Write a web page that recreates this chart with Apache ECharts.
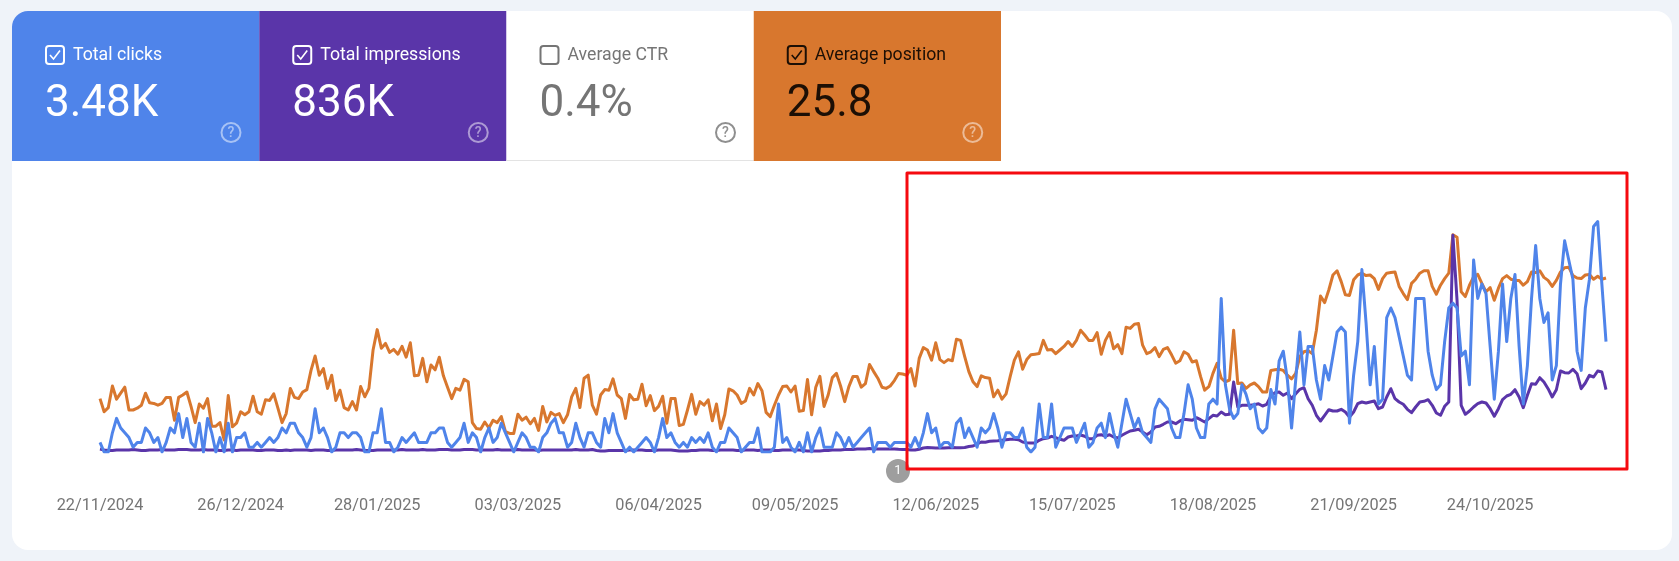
<!DOCTYPE html>
<html>
<head>
<meta charset="utf-8">
<title>Search performance</title>
<style>
  html, body { margin: 0; padding: 0; background: #eff3f9; }
  #chart { width: 1679px; height: 561px; }
</style>
<script src="https://cdn.jsdelivr.net/npm/echarts@6/dist/echarts.min.js"></script>
</head>
<body>
<div id="chart"></div>
<script>
// Headline figures
const metricNames = ['Total clicks', 'Total impressions', 'Average CTR', 'Average position'];
const metricValues = ['3.48K', '836K', '0.4%', '25.8'];
const metricChecked = [true, true, false, true];

// Dates shown under the plot
const tickLabels = ['22/11/2024', '26/12/2024', '28/01/2025', '03/03/2025', '06/04/2025', '09/05/2025',
  '12/06/2025', '15/07/2025', '18/08/2025', '21/09/2025', '24/10/2025'];

// Daily clicks
const clicks = [
  2,0,0,4,7,5,4,3,1,2, 2,5,4,2,3,0,2,5,4,8, 3,7,2,1,6,0,7,4,0,3, 0,6,0,3,3,4,1,1,2,1,
  2,3,2,3,5,4,6,6,4,3, 1,3,9,4,5,3,0,1,4,4, 3,4,4,3,0,0,4,4,9,2, 2,0,1,3,2,3,4,2,2,2,
  4,4,5,5,2,1,2,3,6,2, 4,3,0,3,5,2,3,6,4,2, 0,2,4,3,1,1,0,3,4,6, 7,4,4,1,2,6,3,1,4,4,
  2,1,7,4,8,4,2,0,1,0, 1,2,3,2,0,3,7,3,4,2, 1,2,1,3,2,3,2,4,1,0, 2,2,5,4,3,0,1,2,2,5,
  0,0,0,1,10,2,3,1,0,2, 0,4,0,3,5,1,1,1,4,3, 1,3,1,2,3,4,5,0,2,2, 2,1,2,2,2,2,1,3,1,4,
  8,4,5,1,2,2,1,6,7,3, 5,3,1,5,4,5,8,5,1,4, 4,3,3,5,1,0,1,10,3,3, 10,1,3,5,5,5,2,4,6,1,
  2,5,6,3,8,4,1,6,11,8, 5,7,4,3,2,9,11,10,9,5, 3,3,8,14,11,5,3,3,10,11, 10,32,14,9,7,8,14,12,9,10,
  5,4,5,13,10,19,21,15,5,15, 25,14,22,22,15,11,18,15,20,25, 26,25,6,16,23,38,27,14,22,10,
  11,28,30,28,24,20,16,15,32,32, 32,21,16,13,14,23,30,31,30,20, 21,14,40,32,35,33,22,11,21,35,
  23,32,37,22,10,18,32,43,32,27, 29,15,18,35,44,40,36,21,17,30, 36,47,48,35,23
];

// Daily impressions, in thousands
const impressions = [
  .3,.2,.15,.15,.2,.2,.2,.2,.25,.2, .15,.15,.2,.2,.2,.25,.2,.2,.2,.25,
  .25,.25,.2,.2,.2,.25,.2,.2,.2,.15, .15,.2,.2,.15,.2,.2,.2,.2,.15,.15,
  .2,.2,.2,.15,.15,.2,.15,.2,.2,.2, .2,.15,.2,.2,.2,.15,.15,.2,.2,.2,
  .2,.2,.25,.2,.15,.15,.15,.2,.2,.2, .2,.2,.2,.25,.2,.2,.2,.2,.25,.2,
  .2,.2,.25,.25,.25,.2,.2,.2,.25,.25, .25,.2,.2,.2,.2,.2,.25,.2,.2,.2,
  .2,.25,.2,.2,.2,.2,.15,.2,.2,.2, .2,.2,.2,.2,.2,.25,.2,.2,.2,.25,
  .15,.1,.1,.15,.15,.15,.15,.15,.2,.2, .2,.2,.15,.15,.15,.2,.2,.2,.2,.15,
  .1,.1,.1,.15,.15,.2,.2,.2,.15,.15, .2,.2,.2,.2,.15,.15,.2,.2,.2,.15,
  .2,.2,.2,.15,.15,.2,.2,.2,.2,.2, .15,.1,.1,.1,.1,.15,.15,.2,.2,.2,
  .25,.25,.25,.3,.3,.3,.35,.3,.3,.3, .3,.3,.3,.27,.25,.25,.2,.2,.27,.4,
  .45,.43,.4,.4,.4,.43,.45,.43,.43,.45, .55,.6,.8,1.0,.97,1.07,1.1,1.13,1.17,1.23,
  1.27,1.27,1.23,1,.93,.9,.9,1.17,1.33,1.4, 1.57,1.43,1.27,1.17,1.5,1.6,1.6,1.7,1.57,1.33,
  1.33,1.67,1.73,1.57,1.73,1.5,1.4,1.67,1.9,2.1, 2.17,2.27,2,1.73,2,2.5,2.57,2.77,3,3,
  2.83,3.1,3.27,3.23,3.17,3.43,3.23,3,3.33,3.67, 3.6,4,3.73,3.77,7,4.5,4.67,4.67,4.67,4.73,
  4.83,4.6,4.77,5.57,5.93,6,5.67,5.9,5.33,5.83, 6.27,6.43,5.33,4.67,3.67,3.1,3.67,4.23,4.1,4.1,
  4.27,4,3.5,4,4.83,5,4.9,5,5.1,4.33, 4.5,5.5,6.33,5.33,5,4.77,4.27,3.93,4.5,5,
  5.07,5.23,4.67,3.9,3.67,4.57,5,21.67,15.17,4.67, 3.77,4.1,4.5,4.83,5,4.9,4.33,3.57,4.33,5.23,
  5.6,5.77,6.23,5.5,4.43,5.67,6.83,6.77,7.43,7, 6.33,5.5,6.23,8.1,7.93,7.9,8.27,7.83,6.33,6.9,
  7.67,7.5,8.1,8,6.23
];

// Daily average position (lower is better, so its axis runs downwards)
const position = [
  37.1,39.3,38.6,35.0,37.2,36.2,35.2,39.0,39.0,38.7, 38.2,36.2,37.8,37.9,38.2,37.9,36.9,36.9,40.7,36.9,
  36.5,36.0,38.4,41.1,38.0,38.7,37.1,41.7,41.7,41.1, 44.0,36.6,41.8,41.2,39.3,39.8,39.3,36.7,39.3,39.7,
  37.3,37.4,36.3,38.7,41.1,39.6,35.4,36.9,37.1,36.0, 35.6,32.4,30.0,33.2,32.1,35.4,33.2,37.4,35.7,38.6,
  39.0,37.6,39.0,35.1,36.8,35.4,29.0,25.6,28.7,27.9, 29.4,28.9,29.7,28.4,30.2,27.8,33.3,33.2,30.4,34.3,
  31.5,32.3,30.2,33.3,35.2,37.1,35.4,35.7,33.9,34.3, 41.1,42.1,42.2,41.0,42.0,40.7,41.1,40.1,42.6,42.9,
  42.9,39.7,40.7,40.2,41.3,40.4,42.4,38.4,41.0,39.4, 39.9,39.6,41.1,39.8,36.8,35.4,38.6,33.7,33.2,38.2,
  39.7,36.5,35.6,35.7,33.8,36.5,37.1,40.4,36.4,37.3, 37.2,34.7,38.3,36.6,39.1,38.4,36.7,41.2,37.1,37.1,
  41.6,41.4,39.0,36.4,39.7,37.6,38.2,37.3,40.8,38.0, 42.1,39.8,35.5,35.8,36.5,37.9,37.5,35.4,36.5,34.6,
  35.8,39.4,40.1,38.2,36.5,35.1,35.0,36.0,35.0,39.2, 39.1,33.9,39.8,35.2,33.4,38.4,36.5,33.6,32.9,35.0,
  37.6,35.1,33.4,33.4,35.2,34.6,31.4,32.6,33.7,35.2, 35.4,35.0,34.1,32.9,33.0,33.2,32.1,35.0,30.4,28.6,
  29.0,30.7,27.8,30.6,31.1,30.6,30.8,27.2,27.4,30.1, 32.6,34.3,35.1,33.3,33.6,33.7,36.8,35.7,37.2,36.3,
  33.4,30.7,29.3,32.2,30.6,29.8,29.7,29.6,27.4,29.0, 28.9,29.6,29.0,28.4,27.6,28.4,27.4,25.7,26.5,27.4,
  27.4,26.1,29.7,27.4,26.1,28.8,28.1,29.6,25.2,25.4, 24.7,24.6,28.2,29.6,29.3,28.6,30.1,28.9,28.6,29.8,
  31.2,30.8,29.3,29.7,31.0,30.8,33.4,35.7,35.1,32.9, 31.2,33.7,34.3,34.0,25.7,34.6,34.5,35.4,34.8,34.5,
  35.1,36.0,36.0,32.4,32.3,32.2,32.4,33.2,33.8,32.9, 30.1,29.3,29.1,29.6,25.7,20.0,21.1,19.0,16.5,15.8,
  17.6,19.8,19.9,17.3,16.5,16.2,16.6,16.5,17.1,18.9, 17.1,16.2,16.1,16.0,18.4,19.6,20.6,17.9,17.2,16.2,
  15.8,15.8,18.4,19.7,18.2,17.1,16.2,9.8,10.2,19.3, 20.1,18.2,16.8,16.4,17.9,19.3,18.6,20.7,18.7,17.1,
  16.6,17.2,17.4,17.4,18.2,17.6,16.0,16.1,15.8,16.9, 17.4,18.4,17.4,16.0,15.3,15.2,16.6,17.0,17.1,16.5,
  16.4,17.2,16.7,17.2,17.0
];

// One category per day, starting on the first tick date
const days = [];
for (let i = 0; i < clicks.length; i++) {
  const d = new Date(Date.UTC(2024, 10, 22 + i));
  days.push(String(d.getUTCDate()).padStart(2, '0') + '/' +
            String(d.getUTCMonth() + 1).padStart(2, '0') + '/' + d.getUTCFullYear());
}

const FONT = 'Roboto, Arial, sans-serif';
const BLUE = '#4f84ea';
const PURPLE = '#5a35a9';
const ORANGE = '#d8772e';

// Summary tiles along the top of the card
const tileStyles = [
  { bg: BLUE,      fg: '#ffffff', help: 'rgba(255,255,255,0.5)' },
  { bg: PURPLE,    fg: '#ffffff', help: 'rgba(255,255,255,0.5)' },
  { bg: '#ffffff', fg: '#757575', help: '#8f8f8f' },
  { bg: ORANGE,    fg: '#1c0f05', help: 'rgba(255,255,255,0.5)' }
];
const TILE_X = 12, TILE_Y = 11, TILE_W = 247.25, TILE_H = 150;

const graphics = [
  { type: 'rect', z: 0, silent: true,
    shape: { x: 12, y: 11, width: 1660, height: 539, r: 16 },
    style: { fill: '#ffffff' } }
];

metricNames.forEach((name, i) => {
  const s = tileStyles[i];
  const x = TILE_X + i * TILE_W;
  graphics.push({ type: 'rect', z: 1, silent: true,
    shape: { x: x, y: TILE_Y, width: TILE_W, height: TILE_H, r: i === 0 ? [16, 0, 0, 0] : 0 },
    style: { fill: s.bg } });
  if (i === 2) {
    graphics.push({ type: 'line', z: 1, silent: true,
      shape: { x1: x, y1: 160.5, x2: x + TILE_W, y2: 160.5 },
      style: { stroke: '#e3e3e3', lineWidth: 1 } });
  }
  graphics.push({ type: 'rect', z: 3, silent: true,
    shape: { x: x + 34, y: 46, width: 18, height: 18, r: 3 },
    style: { fill: 'none', stroke: s.fg, lineWidth: 2 } });
  if (metricChecked[i]) {
    graphics.push({ type: 'polyline', z: 3, silent: true,
      shape: { points: [[x + 38, 55], [x + 41.5, 59], [x + 48, 50.5]] },
      style: { fill: 'none', stroke: s.fg, lineWidth: 1.6 } });
  }
  graphics.push({ type: 'text', z: 3, silent: true,
    style: { text: name, x: x + 61, y: 56, fill: s.fg, font: '400 17.7px ' + FONT, textVerticalAlign: 'middle' } });
  graphics.push({ type: 'text', z: 3, silent: true,
    style: { text: metricValues[i], x: x + 33, y: 105, fill: s.fg, font: '400 44px ' + FONT, textVerticalAlign: 'middle' } });
  graphics.push({ type: 'circle', z: 3, silent: true,
    shape: { cx: x + 219, cy: 132.5, r: 9.5 },
    style: { fill: 'none', stroke: s.help, lineWidth: 2 } });
  graphics.push({ type: 'text', z: 3, silent: true,
    style: { text: '?', x: x + 219, y: 133, fill: s.help, font: '500 14px ' + FONT, textAlign: 'center', textVerticalAlign: 'middle' } });
});

// Annotation pin on the time line and the highlight frame over the recent months
graphics.push({ type: 'circle', z: 5, silent: true,
  shape: { cx: 898, cy: 471, r: 12 }, style: { fill: '#9e9e9e' } });
graphics.push({ type: 'text', z: 6, silent: true,
  style: { text: '1', x: 898, y: 471, fill: '#ffffff', font: '400 13px ' + FONT, textAlign: 'center', textVerticalAlign: 'middle' } });
graphics.push({ type: 'rect', z: 7, silent: true,
  shape: { x: 907, y: 173, width: 720, height: 296 },
  style: { fill: 'none', stroke: '#f50a0f', lineWidth: 3, lineJoin: 'round' } });

const hiddenAxis = (max, extra) => Object.assign({
  type: 'value', min: 0, max: max, show: false, splitLine: { show: false }
}, extra);

const makeLine = (name, data, color, axis) => ({
  name: name, type: 'line', data: data, yAxisIndex: axis,
  showSymbol: false, symbol: 'none', smooth: false, silent: true,
  lineStyle: { color: color, width: 3, join: 'round' }, itemStyle: { color: color }
});

const chart = echarts.init(document.getElementById('chart'));
chart.setOption({
  animation: false,
  backgroundColor: '#eff3f9',
  textStyle: { fontFamily: FONT },
  grid: { left: 100, right: 73, top: 176, bottom: 109 },
  xAxis: {
    type: 'category', data: days, boundaryGap: false,
    axisLine: { show: false }, axisTick: { show: false }, splitLine: { show: false },
    axisLabel: {
      margin: 46, color: '#757575', fontSize: 16.3, fontFamily: FONT,
      hideOverlap: false, showMinLabel: true,
      interval: (i, v) => tickLabels.includes(v)
    }
  },
  yAxis: [
    hiddenAxis(57.5),
    hiddenAxis(27.6),
    hiddenAxis(46, { inverse: true })
  ],
  series: [
    makeLine('Average position', position, ORANGE, 2),
    makeLine('Total impressions', impressions, PURPLE, 1),
    makeLine('Total clicks', clicks, BLUE, 0)
  ],
  graphic: { elements: graphics }
});
</script>
</body>
</html>
